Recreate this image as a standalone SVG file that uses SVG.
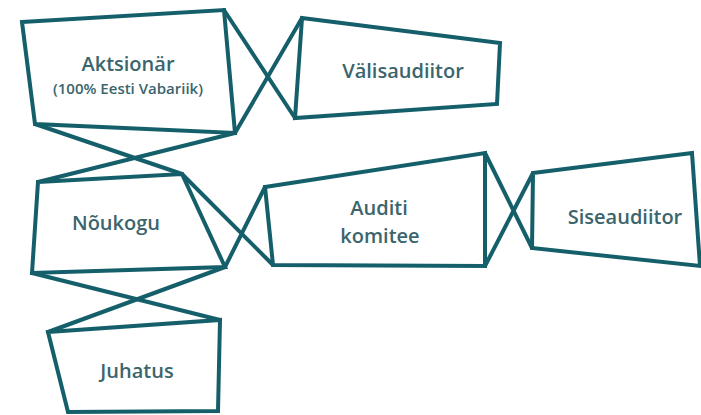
<svg xmlns="http://www.w3.org/2000/svg" width="701" height="415" viewBox="0 0 701 415">
<style>
.box{fill:#fff;stroke:#155f6b;stroke-width:4;stroke-linejoin:miter}
.con{stroke:#155f6b;stroke-width:4;stroke-linecap:round;fill:none}
.t{font-family:"Open Sans","Liberation Sans",sans-serif;font-weight:600;fill:#3b656d;text-anchor:middle;font-size:20px}
.s{font-size:15px}
</style>
<rect width="701" height="415" fill="#fff"/>
<g id="connectors">
<line class="con" x1="224" y1="10" x2="295" y2="118"/>
<line class="con" x1="235" y1="133" x2="302" y2="18"/>
<line class="con" x1="35" y1="124" x2="182" y2="174"/>
<line class="con" x1="235" y1="133" x2="38" y2="182"/>
<line class="con" x1="182" y1="174" x2="273" y2="265"/>
<line class="con" x1="225" y1="267" x2="265" y2="187"/>
<line class="con" x1="485" y1="153" x2="532" y2="248"/>
<line class="con" x1="485" y1="266" x2="533" y2="173"/>
<line class="con" x1="32" y1="273" x2="220" y2="320"/>
<line class="con" x1="225" y1="267" x2="48" y2="332"/>
</g>
<g id="aktsionar">
<polygon class="box" points="22,22 224,10 235,133 35,124"/>
<text class="t" x="128" y="71">Aktsionär</text>
<text class="t s" x="128" y="94">(100% Eesti Vabariik)</text>
</g>
<g id="valisaudiitor">
<polygon class="box" points="302,18 500,43 497,104 295,118"/>
<text class="t" x="403" y="78">Välisaudiitor</text>
</g>
<g id="noukogu">
<polygon class="box" points="38,182 182,174 225,267 32,273"/>
<text class="t" x="116" y="230">Nõukogu</text>
</g>
<g id="auditi">
<polygon class="box" points="265,187 485,153 485,266 273,265"/>
<text class="t" x="379" y="215">Auditi</text>
<text class="t" x="380" y="243">komitee</text>
</g>
<g id="siseaudiitor">
<polygon class="box" points="533,173 692,153 700,266 532,248"/>
<text class="t" x="625" y="224">Siseaudiitor</text>
</g>
<g id="juhatus">
<polygon class="box" points="48,332 220,320 218,411 68,412"/>
<text class="t" x="137" y="378">Juhatus</text>
</g>
</svg>
